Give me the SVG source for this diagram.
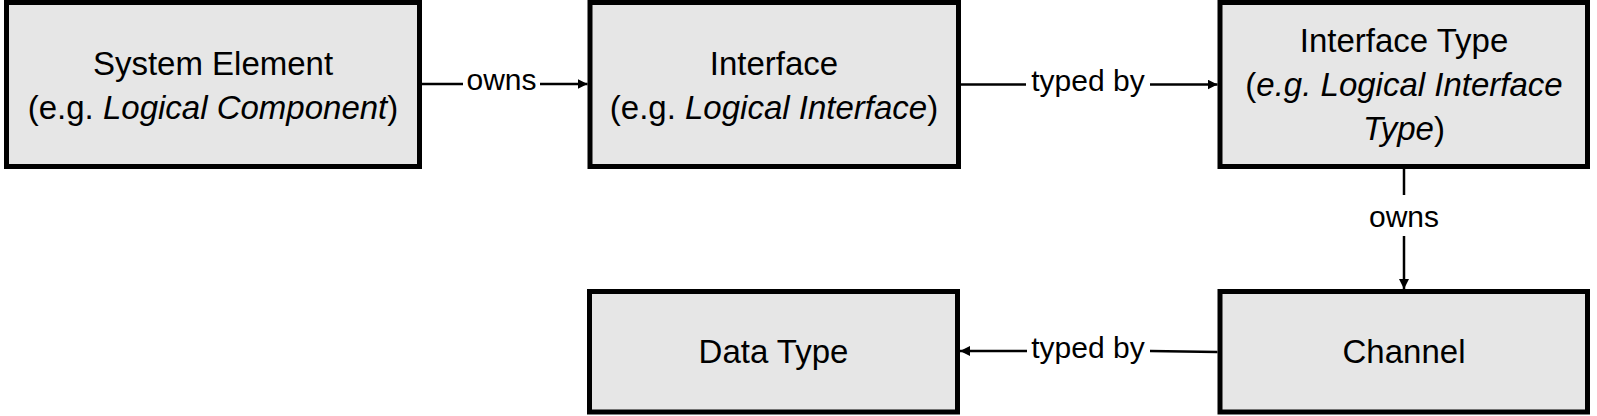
<svg xmlns="http://www.w3.org/2000/svg" width="1597" height="416" viewBox="0 0 1597 416">
  <style>
    .box { fill: #e6e6e6; stroke: #000; stroke-width: 5; }
    .t { font-family: "Liberation Sans", Arial, sans-serif; font-size: 33px; fill: #000; text-anchor: middle; }
    .lbl { font-family: "Liberation Sans", Arial, sans-serif; font-size: 30px; fill: #000; text-anchor: middle; }
    .conn { stroke: #000; stroke-width: 2.5; fill: none; }
  </style>
  <defs>
    <marker id="arrow" markerUnits="userSpaceOnUse" markerWidth="10" markerHeight="10" refX="10" refY="5" orient="auto">
      <path d="M0,0 L10,5 L0,10 z" fill="#000"/>
    </marker>
  </defs>
  <rect width="1597" height="416" fill="#fff"/>

  <g id="system-element">
    <rect class="box" x="6.5" y="2.5" width="413" height="164"/>
    <text class="t" x="213" y="75">System Element</text>
    <text class="t" x="213" y="119">(e.g. <tspan font-style="italic">Logical Component</tspan>)</text>
  </g>

  <g id="interface">
    <rect class="box" x="590" y="2.5" width="368.5" height="164"/>
    <text class="t" x="774" y="75">Interface</text>
    <text class="t" x="774" y="119">(e.g. <tspan font-style="italic">Logical Interface</tspan>)</text>
  </g>

  <g id="interface-type">
    <rect class="box" x="1220" y="2.5" width="367.5" height="164"/>
    <text class="t" x="1404" y="52">Interface Type</text>
    <text class="t" x="1404" y="96">(<tspan font-style="italic">e.g. Logical Interface</tspan></text>
    <text class="t" x="1404" y="140"><tspan font-style="italic">Type</tspan>)</text>
  </g>

  <g id="data-type">
    <rect class="box" x="589.5" y="291.5" width="368" height="120.5"/>
    <text class="t" x="773.5" y="363">Data Type</text>
  </g>

  <g id="channel">
    <rect class="box" x="1220" y="291.5" width="367.5" height="120.5"/>
    <text class="t" x="1404" y="363">Channel</text>
  </g>

  <g id="connectors">
    <line class="conn" x1="421.5" y1="84" x2="463" y2="84"/>
    <line class="conn" x1="540" y1="84" x2="587.5" y2="84" marker-end="url(#arrow)"/>
    <text class="lbl" x="501.5" y="90">owns</text>

    <line class="conn" x1="961" y1="84.5" x2="1026" y2="84.5"/>
    <line class="conn" x1="1150" y1="84.5" x2="1217.5" y2="84.5" marker-end="url(#arrow)"/>
    <text class="lbl" x="1088" y="91">typed by</text>

    <line class="conn" x1="1404" y1="169" x2="1404" y2="195"/>
    <line class="conn" x1="1404" y1="236" x2="1404" y2="289" marker-end="url(#arrow)"/>
    <text class="lbl" x="1404" y="227">owns</text>

    <line class="conn" x1="1217.5" y1="352" x2="1150" y2="351"/>
    <line class="conn" x1="1027" y1="351" x2="960" y2="351" marker-end="url(#arrow)"/>
    <text class="lbl" x="1088" y="358">typed by</text>
  </g>
</svg>
